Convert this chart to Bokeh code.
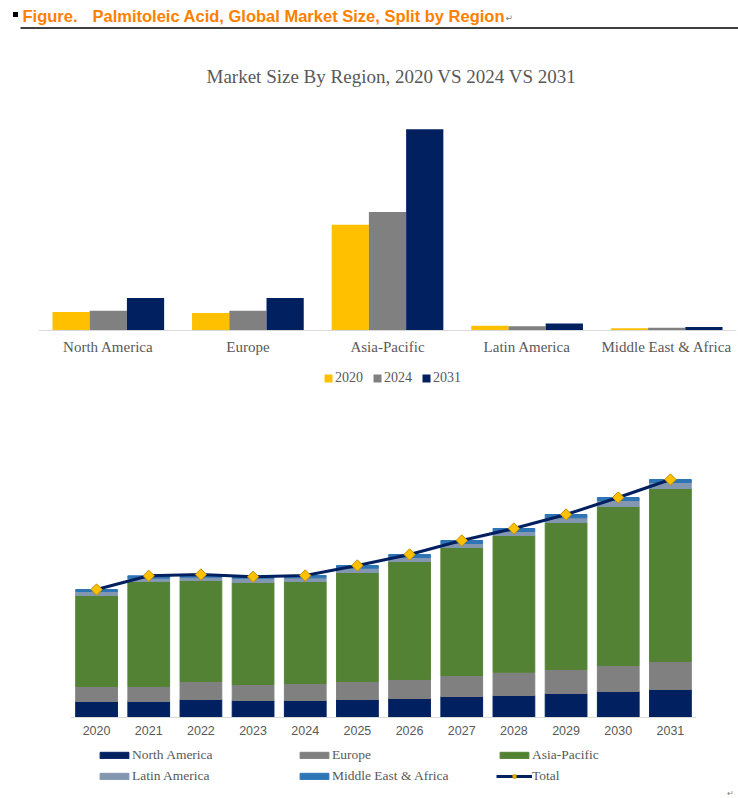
import numpy as np
from bokeh.plotting import figure
from bokeh.models import ColumnDataSource, Range1d, FactorRange, Legend, LegendItem
from bokeh.transform import dodge
from bokeh.core.properties import value
from bokeh.embed import file_html
from bokeh.resources import INLINE

# ---------------- data ----------------
years = ["2020", "2021", "2022", "2023", "2024", "2025", "2026", "2027", "2028", "2029", "2030", "2031"]
regions = ["North America", "Europe", "Asia-Pacific", "Latin America", "Middle East & Africa"]
north_america = [16, 16, 18, 17, 17, 18, 19, 21, 22, 24, 26, 28]
europe = [15, 15, 18, 16, 17, 18, 19, 21, 23.3, 24, 26, 28]
asia_pacific = [91, 105, 101, 102, 102, 109, 118, 128, 136.7, 147, 159, 173]
latin_america = [4, 3.3, 3.3, 4.3, 3.7, 4.3, 4, 4, 4, 4.7, 6, 6]
middle_east_africa = [2, 2.4, 2.7, 1.4, 2.3, 2.7, 3, 3, 3, 3.3, 3, 3]
compare_years = ["2020", "2024", "2031"]

region_colors = ["#002060", "#808080", "#548235", "#8497B0", "#2E75B6"]
year_colors = ["#FFC000", "#808080", "#002060"]
TXT = "#595959"

series = [north_america, europe, asia_pacific, latin_america, middle_east_africa]
total = [round(sum(v), 2) for v in zip(*series)]


def bare(fig):
    fig.axis.visible = False
    fig.grid.visible = False
    fig.outline_line_color = None


def style_xaxis(fig, font, size, standoff):
    fig.yaxis.visible = False
    fig.grid.visible = False
    fig.outline_line_color = None
    ax = fig.xaxis[0]
    ax.fixed_location = 0
    ax.axis_line_color = "#D9D9D9"
    ax.major_tick_line_color = None
    ax.minor_tick_line_color = None
    ax.major_tick_out = 0
    ax.major_tick_in = 0
    ax.major_label_text_font = font
    ax.major_label_text_font_size = size
    ax.major_label_text_color = TXT
    ax.major_label_standoff = standoff


# ---------------- header (figure caption + chart 1 title) ----------------
h = figure(width=738, height=100, x_range=Range1d(0, 738), y_range=Range1d(100, 0),
           output_backend="svg", toolbar_location=None, min_border=0)
bare(h)
h.scatter(x=[15], y=[14], marker="square", size=5, fill_color="black", line_color=None)
h.text(x=[22], y=[15], text=["Figure."], text_font=value("Liberation Sans"),
       text_font_style="bold", text_font_size="16.5px", text_color="#FF8000", text_baseline="middle")
h.text(x=[92], y=[15], text=["Palmitoleic Acid, Global Market Size, Split by Region"],
       text_font=value("Liberation Sans"), text_font_style="bold", text_font_size="16.5px",
       text_color="#FF8000", text_baseline="middle")
h.text(x=[505], y=[17], text=["\u21b5"], text_font=value("DejaVu Sans"), text_font_size="9px",
       text_color="#808080", text_baseline="middle")
h.segment(x0=[20], y0=[27.5], x1=[738], y1=[27.5], line_color="black", line_width=1.3)
h.text(x=[391], y=[76], text=["Market Size By Region, 2020 VS 2024 VS 2031"],
       text_font=value("Liberation Serif"), text_font_size="19px", text_color=TXT,
       text_align="center", text_baseline="middle")

# ---------------- chart 1: grouped bars ----------------
idx = [years.index(y) for y in compare_years]
src1 = ColumnDataSource(dict(region=regions,
                             **{f"y{y}": [s[i] for s in series] for y, i in zip(compare_years, idx)}))
p1 = figure(width=738, height=300, x_range=FactorRange(*regions), y_range=Range1d(-59.33, 189.17),
            output_backend="svg", toolbar_location=None,
            min_border_left=38, min_border_right=2, min_border_top=10, min_border_bottom=1)
bw = 0.8 / 3
r1 = []
for k, (y, c) in enumerate(zip(compare_years, year_colors)):
    r1.append(p1.vbar(x=dodge("region", (k - 1) * bw, range=p1.x_range), top=f"y{y}", width=bw,
                      source=src1, fill_color=c, line_color=None))
style_xaxis(p1, "Liberation Serif", "15px", 8)
leg1 = Legend(items=[LegendItem(label=y, renderers=[r]) for y, r in zip(compare_years, r1)],
              orientation="horizontal", location=(285, 13), glyph_width=10, glyph_height=10,
              label_standoff=2, spacing=9, padding=0, margin=0, border_line_color=None,
              background_fill_alpha=0, label_text_font="Liberation Serif",
              label_text_font_size="14px", label_text_color=TXT)
p1.add_layout(leg1, "center")

# ---------------- chart 2: stacked bars + total line ----------------
keys = ["na", "eu", "ap", "la", "mea"]
src2 = ColumnDataSource(dict(year=years, na=north_america, eu=europe, ap=asia_pacific,
                             la=latin_america, mea=middle_east_africa, total=total))
p2 = figure(width=738, height=387, x_range=FactorRange(*years), y_range=Range1d(-70, 257),
            output_backend="svg", toolbar_location=None,
            min_border_left=70, min_border_right=42, min_border_top=60, min_border_bottom=0)
r2 = p2.vbar_stack(keys, x="year", width=0.8, color=region_colors, source=src2)
rl = p2.line(x="year", y="total", source=src2, line_color="#002060", line_width=3)
rs = p2.scatter(x="year", y="total", source=src2, marker="square", angle=np.pi / 4, size=8,
                fill_color="#FFC000", line_color="#BF9000", line_width=1)
style_xaxis(p2, "Liberation Sans", "12.5px", 8)
items2 = [LegendItem(label=n, renderers=[r]) for n, r in zip(regions, r2)]
items2.append(LegendItem(label="Total", renderers=[rl, rs]))
leg2 = Legend(items=items2, orientation="horizontal", ncols=3, nrows=2, location=(26, 3),
              glyph_width=36, glyph_height=8, label_standoff=0, label_width=159, spacing=5,
              padding=0, margin=0, border_line_color=None, background_fill_alpha=0,
              label_text_font="Liberation Serif", label_text_font_size="13.5px",
              label_text_color=TXT)
p2.add_layout(leg2, "center")

# ---------------- footer ----------------
f = figure(width=738, height=11, x_range=Range1d(0, 738), y_range=Range1d(11, 0),
           output_backend="svg", toolbar_location=None, min_border=0)
bare(f)
f.text(x=[730], y=[4.5], text=["\u21b5"], text_font=value("DejaVu Sans"), text_font_size="8px",
       text_color="#808080", text_align="center", text_baseline="middle")

open("out.html", "w").write(file_html([h, p1, p2, f], INLINE))
